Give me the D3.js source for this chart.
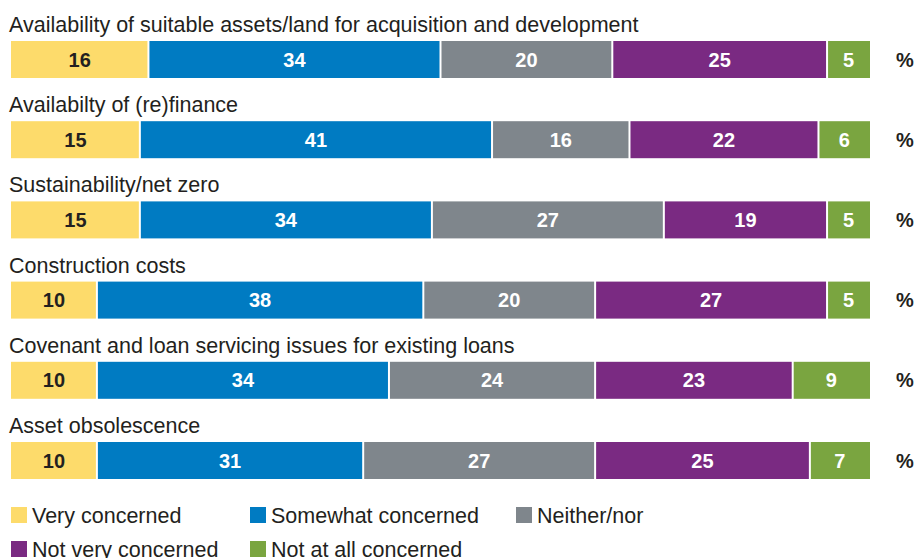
<!DOCTYPE html>
<html>
<head>
<meta charset="utf-8">
<script src="https://cdn.jsdelivr.net/npm/d3@7"></script>
<style>
  html, body { margin: 0; padding: 0; background: #fff; }
  svg { display: block; font-family: "Liberation Sans", Arial, Helvetica, sans-serif; }
</style>
</head>
<body>
<svg id="chart" width="918" height="558"></svg>
<script>
const categories = [
  "Availability of suitable assets/land for acquisition and development",
  "Availabilty of (re)finance",
  "Sustainability/net zero",
  "Construction costs",
  "Covenant and loan servicing issues for existing loans",
  "Asset obsolescence"
];
const seriesNames = ["Very concerned", "Somewhat concerned", "Neither/nor", "Not very concerned", "Not at all concerned"];
const veryConcerned     = [16, 15, 15, 10, 10, 10];
const somewhatConcerned = [34, 41, 34, 38, 34, 31];
const neitherNor        = [20, 16, 27, 20, 24, 27];
const notVeryConcerned  = [25, 22, 19, 27, 23, 25];
const notAtAllConcerned = [5, 6, 5, 5, 9, 7];
const colors = ["#FDDB6B", "#007BC2", "#7F868C", "#7A2A82", "#7AA540"];
const labelColors = ["#231F20", "#fff", "#fff", "#fff", "#fff"];

const seriesValues = [veryConcerned, somewhatConcerned, neitherNor, notVeryConcerned, notAtAllConcerned];
const table = categories.map((c, i) => {
  const row = { category: c };
  seriesNames.forEach((s, j) => row[s] = seriesValues[j][i]);
  return row;
});
const stack = d3.stack().keys(seriesNames)(table);

const svg = d3.select("#chart");
const x = d3.scaleLinear().domain([0, 100]).range([11, 870]);
const y = d3.scalePoint().domain(categories).range([41, 442]);
const barH = 37;
const gap = 1;

// titles
svg.append("g").selectAll("text").data(categories).join("text")
  .attr("x", 9).attr("y", d => y(d) - 9)
  .attr("font-size", 21.5).attr("fill", "#231F20")
  .text(d => d);

// bars
const layers = svg.append("g").selectAll("g").data(stack).join("g");
layers.selectAll("rect").data((d, j) => d.map(v => ({ v, j }))).join("rect")
  .attr("x", d => x(d.v[0]) + (d.v[0] > 0 ? gap : 0))
  .attr("width", d => x(d.v[1]) - x(d.v[0]) - (d.v[0] > 0 ? gap : 0) - (d.v[1] < 100 ? gap : 0))
  .attr("y", d => y(d.v.data.category))
  .attr("height", barH)
  .attr("fill", d => colors[d.j]);

layers.selectAll("text").data((d, j) => d.map(v => ({ v, j }))).join("text")
  .attr("x", d => (x(d.v[0]) + x(d.v[1])) / 2)
  .attr("y", d => y(d.v.data.category) + barH / 2 + 7)
  .attr("text-anchor", "middle")
  .attr("font-size", 20).attr("font-weight", "bold")
  .attr("fill", d => labelColors[d.j])
  .text(d => d.v[1] - d.v[0]);

// percent signs
svg.append("g").selectAll("text").data(categories).join("text")
  .attr("x", 905).attr("y", d => y(d) + barH / 2 + 7)
  .attr("text-anchor", "middle")
  .attr("font-size", 20).attr("font-weight", "bold").attr("fill", "#231F20")
  .text("%");

// legend
const legendPos = [[11, 507], [250, 507], [516, 507], [11, 541], [250, 541]];
const lg = svg.append("g").selectAll("g").data(seriesNames).join("g")
  .attr("transform", (d, i) => `translate(${legendPos[i][0]},${legendPos[i][1]})`);
lg.append("rect").attr("width", 16).attr("height", 16).attr("fill", (d, i) => colors[i]);
lg.append("text").attr("x", 21).attr("y", 16).attr("font-size", 21.5).attr("fill", "#231F20").text(d => d);
</script>
</body>
</html>
